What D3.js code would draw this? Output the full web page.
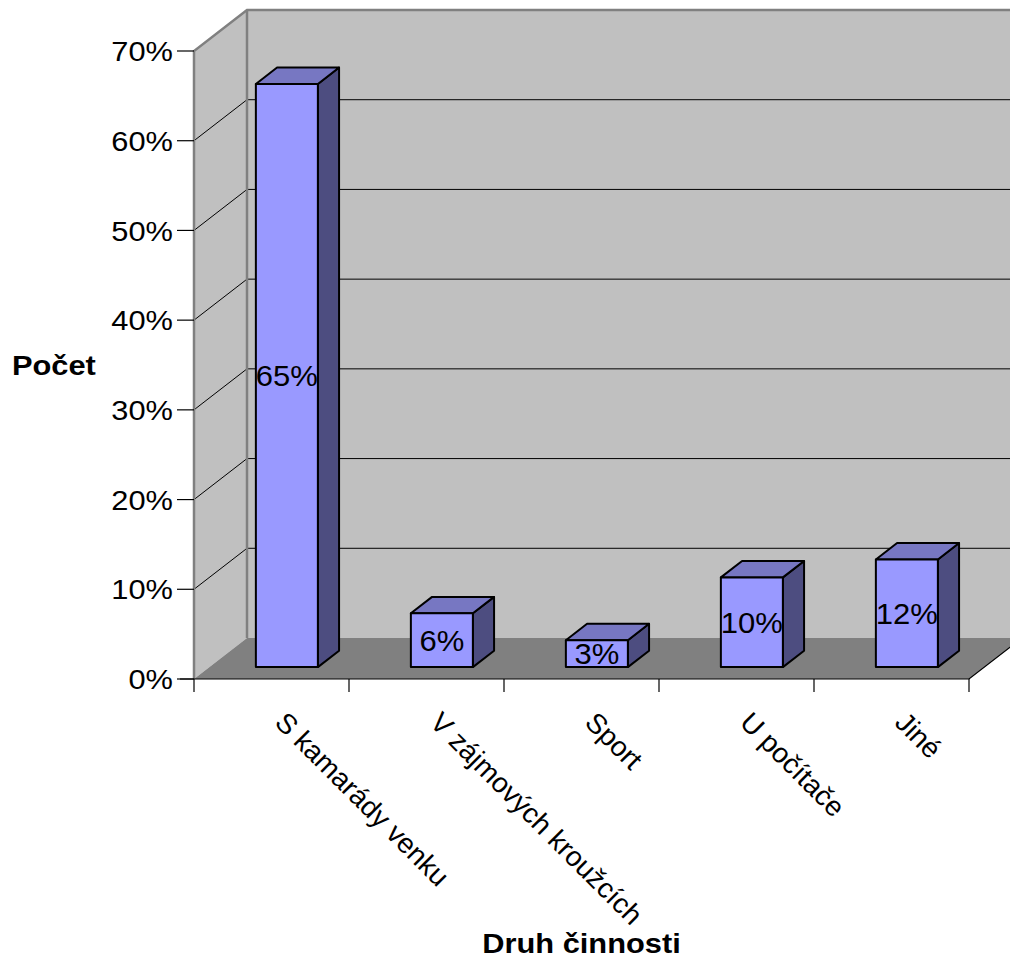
<!DOCTYPE html>
<html><head><meta charset="utf-8">
<script src="https://cdn.jsdelivr.net/npm/d3@7"></script>
<style>html,body{margin:0;padding:0;background:#fff;} svg{display:block;}</style>
</head><body>
<svg id="chart" width="1010" height="959"></svg>
<script>
const categories = ["S kamarády venku", "V zájmových kroužcích", "Sport", "U počítače", "Jiné"];
const values = [0.65, 0.06, 0.03, 0.10, 0.12];
const dataLabels = ["65%", "6%", "3%", "10%", "12%"];
const yTicks = [0, 0.1, 0.2, 0.3, 0.4, 0.5, 0.6, 0.7];
const yTitle = "Počet";
const xTitle = "Druh činnosti";

const svg = d3.select("#chart");
const font = "'Liberation Sans', Arial, sans-serif";

const x0 = 194, x1 = 969, yBase = 679, yTop = 51;
const D = {dx: 53, dy: -41};
const frontFrac = 0.29, backFrac = 0.69;

const x = d3.scaleBand().domain(categories).range([x0, x1]).paddingInner(0.6).paddingOuter(0.3);
const xTickScale = d3.scaleLinear().domain([0, categories.length]).range([x0, x1]);
const y = d3.scaleLinear().domain([0, 0.7]).range([yBase, yTop]);

function stext(parent, px, py, str, opts) {
  const g = parent.append("g").attr("transform", `translate(${px},${py}) scale(${opts.sx || 1.1},1)`);
  const t = g.append("text").attr("x", 0).attr("y", 0)
    .attr("font-family", font).attr("font-size", opts.size)
    .attr("text-anchor", opts.anchor || "start")
    .text(str);
  if (opts.bold) t.attr("font-weight", "bold");
  if (opts.dy) t.attr("dy", opts.dy);
  return t;
}

// back wall
svg.append("polygon")
  .attr("points", [[x0+D.dx, yTop+D.dy],[x1+D.dx+20, yTop+D.dy],[x1+D.dx+20, yBase+D.dy],[x0+D.dx, yBase+D.dy]].map(p=>p.join(",")).join(" "))
  .attr("fill", "#c0c0c0");
// side wall
svg.append("polygon")
  .attr("points", [[x0, yTop],[x0+D.dx, yTop+D.dy],[x0+D.dx, yBase+D.dy],[x0, yBase]].map(p=>p.join(",")).join(" "))
  .attr("fill", "#c0c0c0");
// floor
svg.append("polygon")
  .attr("points", [[x0, yBase],[x1, yBase],[x1+D.dx, yBase+D.dy],[x0+D.dx, yBase+D.dy]].map(p=>p.join(",")).join(" "))
  .attr("fill", "#808080");

// gridlines
const grid = yTicks.filter(t => t > 0 && t < 0.7);
grid.forEach(t => {
  const yy = y(t);
  svg.append("polyline")
    .attr("points", `${x0},${yy} ${x0+D.dx},${yy+D.dy} ${x1+D.dx+20},${yy+D.dy}`)
    .attr("fill", "none").attr("stroke", "#000").attr("stroke-width", 1);
});

// wall borders
svg.append("polyline")
  .attr("points", `${x0},${yBase} ${x0},${yTop} ${x0+D.dx},${yTop+D.dy} ${x1+D.dx+20},${yTop+D.dy}`)
  .attr("fill", "none").attr("stroke", "#808080").attr("stroke-width", 2.5);
svg.append("line")
  .attr("x1", x0+D.dx).attr("y1", yTop+D.dy).attr("x2", x0+D.dx).attr("y2", yBase+D.dy)
  .attr("stroke", "#808080").attr("stroke-width", 2.5);

// floor right edge + front edge
svg.append("polyline")
  .attr("points", `${x0-14},${yBase} ${x1},${yBase} ${x1+D.dx},${yBase+D.dy}`)
  .attr("fill", "none").attr("stroke", "#000").attr("stroke-width", 1.2);

// y ticks
const yAxisG = svg.append("g");
yTicks.forEach(t => {
  yAxisG.append("line").attr("x1", x0-17).attr("x2", x0).attr("y1", y(t)).attr("y2", y(t))
    .attr("stroke", "#000").attr("stroke-width", 1.2);
  stext(yAxisG, x0-21, y(t), d3.format(".0%")(t), {size: 28, anchor: "end", dy: "0.36em", sx: 1.1});
});

// x ticks
d3.range(categories.length + 1).forEach(i => {
  svg.append("line").attr("x1", xTickScale(i)).attr("x2", xTickScale(i)).attr("y1", yBase).attr("y2", yBase+13)
    .attr("stroke", "#000").attr("stroke-width", 1.2);
});

// bars
const fdx = D.dx*frontFrac, fdy = D.dy*frontFrac;
const bdx = D.dx*backFrac, bdy = D.dy*backFrac;
const bars = svg.append("g");
categories.forEach((c, i) => {
  const v = values[i];
  const xl = x(c), xr = x(c) + x.bandwidth();
  const yb = y(0), yt = y(v);
  const F = (px, py) => [px + fdx, py + fdy];
  const B = (px, py) => [px + bdx, py + bdy];
  const pts = a => a.map(p => p.join(",")).join(" ");
  bars.append("polygon").attr("points", pts([F(xr, yb), B(xr, yb), B(xr, yt), F(xr, yt)]))
    .attr("fill", "#4d4d80").attr("stroke", "#000").attr("stroke-width", 2).attr("stroke-linejoin", "round");
  bars.append("polygon").attr("points", pts([F(xl, yt), F(xr, yt), B(xr, yt), B(xl, yt)]))
    .attr("fill", "#7777c2").attr("stroke", "#000").attr("stroke-width", 2).attr("stroke-linejoin", "round");
  bars.append("polygon").attr("points", pts([F(xl, yb), F(xr, yb), F(xr, yt), F(xl, yt)]))
    .attr("fill", "#9999ff").attr("stroke", "#000").attr("stroke-width", 2).attr("stroke-linejoin", "round");
  stext(bars, (xl + xr)/2 + fdx, (yb + yt)/2 + fdy, dataLabels[i], {size: 29, anchor: "middle", dy: "0.36em", sx: 1.07});
});

// x category labels (rotated)
categories.forEach((c, i) => {
  const cx = (xTickScale(i) + xTickScale(i+1))/2 + 2;
  svg.append("text").attr("transform", `translate(${cx},724) rotate(45)`)
    .attr("font-family", font).attr("font-size", 28).attr("text-anchor", "start")
    .text(c);
});

// axis titles
stext(svg, 12, 375, yTitle, {size: 28, bold: true, sx: 1.1});
stext(svg, (x0 + x1)/2, 953, xTitle, {size: 28, bold: true, anchor: "middle", sx: 1.1});
</script>
</body></html>
